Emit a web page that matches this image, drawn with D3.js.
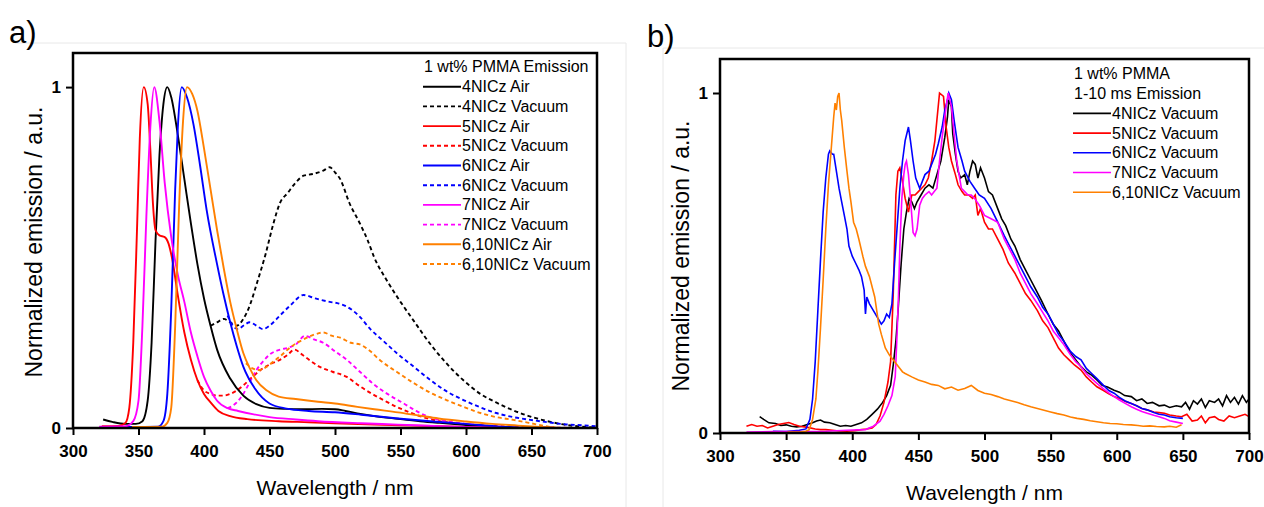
<!doctype html>
<html>
<head>
  <meta charset="utf-8">
  <title>emission spectra</title>
  <style>
    body { margin: 0; background: #fff; }
    svg { display: block; font-family: "Liberation Sans", Arial, sans-serif; }
    .tick text { font-weight: 700; font-size: 17px; fill: #000; }
    .legend text { font-size: 16px; fill: #000; }
  </style>
</head>
<body>
  <div id="chart"></div>
  <script src="https://d3js.org/d3.v7.min.js"></script>
  <script>
    // shared axis ticks
    const xTicks = [300, 350, 400, 450, 500, 550, 600, 650, 700];
    const yTicks = [0, 1];

    // panel a) series: [wavelength nm, normalized emission]
    const a4Air = [[323,0.025],[330,0.018],[340,0.012],[348,0.012],[353,0.02],[357,0.08],[360,0.25],[363,0.55],[366,0.8],[369,0.95],[372,1],[375,0.97],[380,0.86],[385,0.73],[390,0.6],[395,0.48],[400,0.38],[405,0.3],[410,0.23],[420,0.145],[430,0.095],[440,0.07],[450,0.059],[462,0.056],[475,0.055],[490,0.056],[500,0.055],[508,0.05],[517,0.043],[530,0.035],[548,0.027],[565,0.02],[580,0.015],[600,0.009],[620,0.004],[640,0]];
    const a4Vac = [[405,0.3],[410,0.31],[415,0.32],[420,0.31],[425,0.3],[430,0.32],[435,0.36],[440,0.42],[447,0.51],[453,0.6],[458,0.66],[464,0.69],[470,0.72],[476,0.74],[483,0.745],[491,0.755],[496,0.765],[500,0.75],[504,0.73],[511,0.66],[519,0.6],[525,0.55],[530,0.5],[540,0.43],[550,0.37],[560,0.315],[572,0.25],[585,0.19],[598,0.14],[611,0.1],[623,0.075],[636,0.052],[648,0.035],[660,0.022],[672,0.012],[685,0.005],[700,0.001]];
    const a5Air = [[322,0.005],[335,0.006],[340,0.015],[343,0.06],[346,0.25],[349,0.6],[351,0.85],[354,1],[357,0.95],[359,0.82],[361,0.66],[363,0.58],[366,0.565],[370,0.56],[373,0.54],[376,0.49],[380,0.39],[385,0.28],[390,0.2],[395,0.14],[400,0.1],[405,0.075],[411,0.05],[420,0.035],[433,0.026],[457,0.02],[480,0.017],[500,0.014],[530,0.01],[560,0.007],[600,0.003],[620,0]];
    const a5Vac = [[395,0.14],[400,0.11],[405,0.1],[410,0.095],[415,0.095],[420,0.1],[425,0.11],[430,0.125],[437,0.15],[445,0.175],[452,0.19],[458,0.2],[464,0.215],[469,0.23],[475,0.215],[482,0.195],[488,0.18],[498,0.165],[509,0.15],[518,0.125],[527,0.103],[537,0.082],[547,0.062],[557,0.046],[567,0.032],[580,0.02],[600,0.011],[620,0.006],[640,0.004],[660,0.002],[680,0]];
    const a6Air = [[340,0.003],[365,0.004],[369,0.02],[372,0.1],[375,0.35],[378,0.7],[380,0.88],[383,1],[387,0.97],[392,0.89],[397,0.77],[402,0.64],[410,0.48],[415,0.39],[420,0.31],[425,0.24],[430,0.18],[439,0.115],[450,0.072],[463,0.057],[480,0.05],[500,0.046],[520,0.039],[548,0.028],[575,0.019],[600,0.012],[627,0.004],[650,0]];
    const a6Vac = [[418,0.33],[422,0.3],[426,0.29],[430,0.3],[435,0.31],[440,0.3],[445,0.29],[450,0.3],[458,0.33],[466,0.36],[476,0.39],[485,0.38],[496,0.37],[503,0.365],[509,0.356],[518,0.33],[527,0.29],[537,0.255],[547,0.22],[560,0.18],[573,0.14],[585,0.108],[598,0.082],[610,0.062],[623,0.044],[636,0.032],[649,0.024],[662,0.017],[675,0.011],[688,0.008],[700,0.005]];
    const a7Air = [[320,0.004],[340,0.005],[346,0.02],[350,0.08],[353,0.3],[356,0.62],[359,0.88],[362,1],[366,0.9],[370,0.72],[375,0.56],[380,0.45],[385,0.37],[390,0.28],[395,0.21],[400,0.15],[405,0.11],[410,0.08],[418,0.058],[426,0.05],[438,0.04],[450,0.032],[470,0.025],[487,0.02],[520,0.014],[548,0.01],[580,0.005],[610,0.002],[630,0]];
    const a7Vac = [[418,0.058],[425,0.075],[430,0.1],[435,0.135],[440,0.17],[445,0.195],[450,0.215],[458,0.23],[464,0.235],[470,0.245],[477,0.27],[484,0.26],[491,0.25],[500,0.225],[509,0.2],[519,0.165],[529,0.13],[540,0.1],[552,0.073],[562,0.05],[572,0.032],[585,0.02],[600,0.012],[615,0.006],[630,0.003],[645,0]];
    const a610Air = [[345,0.003],[368,0.004],[372,0.015],[375,0.06],[378,0.3],[381,0.65],[384,0.9],[387,1],[391,0.98],[395,0.93],[400,0.82],[405,0.7],[410,0.58],[415,0.47],[420,0.37],[425,0.29],[430,0.22],[435,0.175],[440,0.14],[448,0.11],[457,0.092],[470,0.085],[487,0.077],[500,0.072],[517,0.062],[530,0.055],[548,0.046],[565,0.036],[579,0.028],[600,0.019],[620,0.012],[640,0.007],[660,0.002],[670,0]];
    const a610Vac = [[432,0.19],[437,0.175],[442,0.17],[448,0.18],[453,0.195],[458,0.21],[467,0.24],[476,0.26],[485,0.275],[491,0.28],[498,0.27],[504,0.265],[512,0.25],[519,0.245],[527,0.225],[534,0.2],[547,0.165],[560,0.132],[572,0.105],[585,0.082],[598,0.062],[611,0.044],[623,0.032],[636,0.024],[648,0.015],[660,0.006],[670,0]];

    // panel b) series (1-10 ms gated emission, vacuum)
    const b4 = [[330,0.048],[333,0.04],[337,0.03],[342,0.028],[346,0.022],[350,0.024],[354,0.02],[358,0.018],[362,0.02],[366,0.025],[370,0.03],[373,0.035],[376,0.038],[379,0.032],[383,0.03],[387,0.025],[391,0.02],[395,0.022],[399,0.02],[403,0.025],[407,0.03],[411,0.04],[415,0.055],[419,0.07],[423,0.09],[426,0.11],[429,0.14],[431,0.2],[433,0.27],[435,0.38],[437,0.5],[439,0.6],[441,0.65],[443,0.69],[445,0.68],[447,0.66],[449,0.68],[452,0.7],[455,0.72],[458,0.73],[461,0.72],[464,0.76],[467,0.8],[470,0.87],[472,0.93],[473,0.98],[475,0.96],[476,0.88],[478,0.82],[480,0.77],[482,0.75],[485,0.76],[487,0.73],[489,0.77],[491,0.8],[493,0.79],[495,0.75],[497,0.78],[500,0.75],[503,0.71],[506,0.7],[510,0.66],[513,0.63],[516,0.61],[520,0.57],[523,0.55],[527,0.51],[531,0.48],[535,0.45],[539,0.42],[543,0.39],[548,0.35],[552,0.32],[556,0.3],[560,0.27],[564,0.24],[568,0.22],[573,0.195],[577,0.18],[581,0.17],[585,0.156],[589,0.14],[593,0.135],[598,0.126],[602,0.12],[606,0.11],[611,0.107],[615,0.095],[619,0.1],[623,0.087],[627,0.09],[632,0.08],[636,0.082],[640,0.075],[645,0.08],[649,0.077],[652,0.09],[655,0.07],[658,0.095],[661,0.085],[664,0.1],[667,0.075],[670,0.095],[674,0.09],[677,0.1],[680,0.08],[683,0.11],[686,0.09],[689,0.105],[692,0.085],[695,0.11],[698,0.09],[700,0.1]];
    const b5 = [[320,0.02],[324,0.025],[328,0.02],[332,0.022],[336,0.015],[340,0.02],[344,0.025],[348,0.028],[352,0.031],[356,0.025],[360,0.02],[364,0.018],[368,0.015],[372,0.012],[376,0.01],[380,0.01],[385,0.008],[390,0.006],[396,0.005],[402,0.007],[407,0.01],[411,0.012],[415,0.015],[418,0.025],[421,0.05],[424,0.09],[427,0.15],[429,0.21],[431,0.41],[433,0.7],[434.5,0.77],[436,0.78],[438,0.74],[440,0.69],[442.5,0.65],[445,0.7],[447.5,0.7],[450,0.71],[452.5,0.72],[455,0.73],[457.5,0.75],[460,0.8],[462.5,0.86],[464,0.92],[466,1.0],[469,0.99],[471,0.9],[473,0.84],[475,0.8],[478,0.76],[480,0.73],[483,0.71],[485,0.7],[488,0.7],[491,0.69],[493,0.7],[495,0.64],[497,0.66],[500,0.62],[503,0.6],[506,0.6],[510,0.57],[514,0.54],[518,0.5],[523,0.47],[527,0.44],[531,0.41],[535,0.39],[540,0.36],[544,0.33],[548,0.31],[552,0.28],[556,0.25],[560,0.23],[564,0.215],[568,0.2],[573,0.185],[577,0.165],[581,0.15],[585,0.136],[590,0.125],[594,0.115],[598,0.107],[603,0.1],[607,0.092],[611,0.087],[615,0.08],[619,0.072],[623,0.068],[628,0.062],[632,0.06],[636,0.058],[640,0.053],[645,0.05],[649,0.048],[653,0.055],[657,0.035],[661,0.038],[664,0.05],[667,0.03],[670,0.045],[674,0.048],[677,0.04],[681,0.035],[685,0.05],[689,0.045],[693,0.05],[697,0.055],[700,0.048]];
    const b6 = [[340,0.005],[350,0.004],[360,0.008],[365,0.012],[368,0.04],[370,0.1],[372,0.21],[374,0.36],[376,0.51],[378,0.65],[380,0.75],[382,0.82],[383,0.83],[385,0.82],[386,0.82],[388,0.77],[390,0.72],[392,0.68],[394,0.64],[396,0.6],[397.5,0.55],[400,0.52],[402.5,0.5],[405,0.48],[407,0.46],[409,0.42],[410,0.35],[411,0.4],[413,0.38],[416,0.36],[419,0.34],[422,0.32],[424,0.33],[426,0.35],[428,0.34],[430,0.38],[432,0.5],[434,0.61],[436,0.72],[438,0.8],[440,0.86],[442.5,0.9],[444,0.86],[446,0.8],[448,0.75],[451,0.72],[453,0.74],[455,0.76],[458,0.77],[460,0.79],[463,0.82],[465,0.85],[468,0.9],[470,0.95],[472,0.98],[473,1.0],[475,0.98],[477,0.92],[480,0.84],[483,0.8],[485,0.77],[489,0.74],[492.5,0.72],[496,0.7],[500,0.69],[505,0.66],[510,0.62],[515,0.58],[519,0.55],[523,0.52],[527,0.49],[531,0.46],[535,0.43],[540,0.4],[544,0.37],[548,0.35],[552,0.32],[556,0.29],[560,0.27],[565,0.24],[569,0.225],[573,0.215],[577,0.19],[581,0.175],[585,0.16],[590,0.14],[594,0.125],[598,0.117],[602,0.105],[606,0.095],[611,0.087],[615,0.08],[619,0.072],[623,0.068],[628,0.06],[632,0.055],[636,0.053],[640,0.048],[645,0.045],[650,0.043]];
    const b7 = [[320,0.003],[340,0.004],[360,0.004],[380,0.005],[396,0.008],[410,0.01],[416,0.02],[421,0.035],[424,0.055],[427,0.08],[430,0.11],[432.5,0.166],[434,0.3],[435,0.41],[436,0.55],[437.5,0.69],[439,0.76],[440,0.79],[441,0.8],[442.5,0.76],[444,0.69],[446,0.59],[447.5,0.58],[449,0.6],[451,0.67],[453,0.69],[455,0.7],[458,0.71],[460,0.7],[462,0.71],[464,0.72],[466,0.8],[468,0.87],[470,0.93],[472.5,1.0],[475,0.96],[477,0.88],[479,0.8],[482.5,0.72],[485,0.71],[487.5,0.7],[490,0.7],[492.5,0.69],[496,0.67],[500,0.64],[505,0.63],[510,0.62],[515,0.57],[519,0.54],[523,0.51],[527,0.47],[531,0.44],[535,0.41],[540,0.38],[544,0.355],[548,0.33],[552,0.3],[556,0.28],[560,0.26],[565,0.23],[569,0.21],[573,0.195],[577,0.175],[581,0.16],[585,0.146],[590,0.13],[594,0.118],[598,0.107],[602,0.097],[606,0.088],[611,0.077],[615,0.07],[619,0.063],[623,0.058],[628,0.052],[632,0.048],[636,0.043],[640,0.036],[645,0.032],[650,0.028]];
    const b610 = [[351,0.003],[360,0.003],[365,0.005],[367.5,0.01],[370,0.04],[372.5,0.1],[374,0.18],[376,0.31],[378,0.45],[380,0.6],[382,0.73],[384,0.83],[386,0.93],[387,0.97],[388,0.95],[389,0.99],[390,1.0],[391,0.95],[392,0.92],[394,0.84],[396,0.77],[397.5,0.72],[399,0.68],[401,0.62],[403,0.6],[405,0.57],[408,0.52],[410,0.49],[413,0.46],[415,0.43],[417,0.4],[420,0.32],[422,0.29],[425,0.25],[428,0.23],[430,0.22],[433,0.205],[435,0.195],[438,0.18],[440,0.175],[445,0.165],[450,0.156],[455,0.15],[460,0.143],[465,0.14],[470,0.13],[475,0.135],[480,0.126],[485,0.131],[490,0.14],[495,0.125],[500,0.117],[505,0.113],[510,0.107],[515,0.1],[520,0.095],[525,0.09],[530,0.083],[535,0.077],[540,0.072],[545,0.067],[550,0.062],[555,0.057],[560,0.053],[565,0.047],[570,0.043],[575,0.04],[580,0.036],[585,0.033],[590,0.03],[595,0.028],[600,0.027],[605,0.025],[611,0.024],[616,0.022],[620,0.02],[625,0.021],[630,0.019],[636,0.018],[640,0.02],[645,0.017],[649,0.024]];

    const colors = { c4: '#000000', c5: '#ff0000', c6: '#0000ff', c7: '#ff00ff', c610: '#ff8000' };

    const seriesA = [
      { name: '4NICz Air', data: a4Air, color: colors.c4, dash: false },
      { name: '4NICz Vacuum', data: a4Vac, color: colors.c4, dash: true },
      { name: '5NICz Air', data: a5Air, color: colors.c5, dash: false },
      { name: '5NICz Vacuum', data: a5Vac, color: colors.c5, dash: true },
      { name: '6NICz Air', data: a6Air, color: colors.c6, dash: false },
      { name: '6NICz Vacuum', data: a6Vac, color: colors.c6, dash: true },
      { name: '7NICz Air', data: a7Air, color: colors.c7, dash: false },
      { name: '7NICz Vacuum', data: a7Vac, color: colors.c7, dash: true },
      { name: '6,10NICz Air', data: a610Air, color: colors.c610, dash: false },
      { name: '6,10NICz Vacuum', data: a610Vac, color: colors.c610, dash: true }
    ];
    const seriesB = [
      { name: '4NICz Vacuum', data: b4, color: colors.c4, dash: false },
      { name: '5NICz Vacuum', data: b5, color: colors.c5, dash: false },
      { name: '6NICz Vacuum', data: b6, color: colors.c6, dash: false },
      { name: '7NICz Vacuum', data: b7, color: colors.c7, dash: false },
      { name: '6,10NICz Vacuum', data: b610, color: colors.c610, dash: false }
    ];

    const W = 1264, H = 507;
    const svg = d3.select('#chart').append('svg').attr('width', W).attr('height', H);

    // faint outlines of the two original figure boxes
    svg.append('path').attr('d', 'M15,43 H626 V507').attr('fill', 'none').attr('stroke', '#e8e8e8');
    svg.append('path').attr('d', 'M663,507 V48 H1264').attr('fill', 'none').attr('stroke', '#e8e8e8');

    const drawPanel = (p) => {
      const x = d3.scaleLinear().domain([300, 700]).range([p.left, p.right]);
      const y = d3.scaleLinear().domain([0, 1.1]).range([p.bottom, p.top]);
      const g = svg.append('g');

      const line = d3.line().x(d => x(d[0])).y(d => y(d[1])).curve(p.curve);

      // dashed first so the solid ones sit on top
      const ordered = p.series.filter(s => s.dash).concat(p.series.filter(s => !s.dash));
      g.selectAll('path.series').data(ordered).join('path')
        .attr('class', 'series')
        .attr('d', s => line(s.data))
        .attr('fill', 'none')
        .attr('stroke', s => s.color)
        .attr('stroke-width', p.lw)
        .attr('stroke-dasharray', s => s.dash ? '4,3' : null);

      // frame
      g.append('rect')
        .attr('x', p.left).attr('y', p.top)
        .attr('width', p.right - p.left).attr('height', p.bottom - p.top)
        .attr('fill', 'none').attr('stroke', '#000').attr('stroke-width', 2.5);

      const xAxis = g.append('g').attr('transform', `translate(0,${p.bottom})`)
        .call(d3.axisBottom(x).tickValues(xTicks).tickSize(7).tickPadding(10).tickFormat(d3.format('d')));
      const yAxis = g.append('g').attr('transform', `translate(${p.left},0)`)
        .call(d3.axisLeft(y).tickValues(yTicks).tickSize(7).tickPadding(5).tickFormat(d3.format('d')));
      [xAxis, yAxis].forEach(a => {
        a.select('.domain').remove();
        a.selectAll('.tick line').attr('stroke', '#000').attr('stroke-width', 2);
      });

      g.append('text')
        .attr('x', (p.left + p.right) / 2).attr('y', p.bottom + 67)
        .attr('text-anchor', 'middle').attr('font-size', 21)
        .text('Wavelength / nm');
      g.append('text')
        .attr('transform', `translate(${p.left - 31},${p.yTitleY}) rotate(-90)`)
        .attr('text-anchor', 'middle').attr('font-size', 23)
        .text('Normalized emission / a.u.');

      g.append('text').attr('x', p.labelX).attr('y', p.labelY)
        .attr('font-size', 31).text(p.label);

      // legend
      const lg = g.append('g').attr('class', 'legend');
      p.legendTitle.forEach((t, i) => {
        lg.append('text').attr('x', p.legX + 1).attr('y', p.legY + i * 19.7 + 5).text(t);
      });
      const y0 = p.legY + p.legendTitle.length * 19.7;
      const items = lg.selectAll('g.item').data(p.series).join('g')
        .attr('class', 'item')
        .attr('transform', (s, i) => `translate(${p.legX},${y0 + i * 19.7})`);
      items.append('line')
        .attr('x1', 0).attr('x2', 38).attr('y1', 0).attr('y2', 0)
        .attr('stroke', s => s.color).attr('stroke-width', p.lw)
        .attr('stroke-dasharray', s => s.dash ? '4,3' : null);
      items.append('text').attr('x', 39).attr('y', 5.5).text(s => s.name);
    };

    drawPanel({
      left: 73, right: 597, top: 53, bottom: 428,
      series: seriesA, lw: 1.9, curve: d3.curveMonotoneX,
      label: 'a)', labelX: 9, labelY: 43,
      yTitleY: 242,
      legendTitle: ['1 wt% PMMA Emission'], legX: 423, legY: 67
    });
    drawPanel({
      left: 720, right: 1249, top: 59, bottom: 433,
      series: seriesB, lw: 1.6, curve: d3.curveLinear,
      label: 'b)', labelX: 647, labelY: 47,
      yTitleY: 256,
      legendTitle: ['1 wt% PMMA', '1-10 ms Emission'], legX: 1073, legY: 74
    });
  </script>
</body>
</html>
